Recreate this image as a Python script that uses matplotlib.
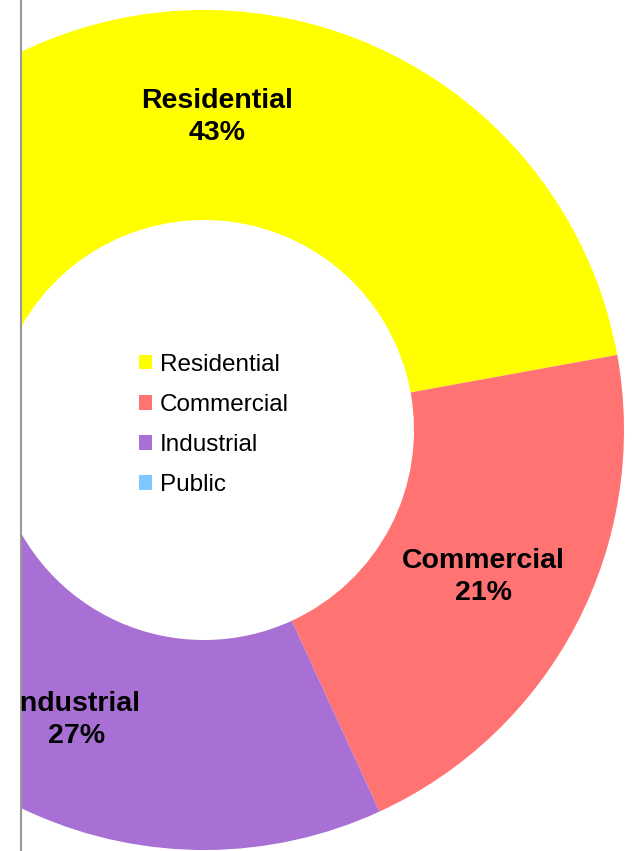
import numpy as np
import matplotlib
matplotlib.use("Agg")
import matplotlib.pyplot as plt
from matplotlib.patches import Patch

plt.rcParams['font.family'] = ['Liberation Sans', 'DejaVu Sans']

categories = ["Residential", "Commercial", "Industrial", "Public"]
values = [43, 21, 27, 9]
colors = ["#FFFF00", "#FF7373", "#A870D4", "#7FC8FF"]

W, H = 635, 851
fig = plt.figure(figsize=(W / 100, H / 100), dpi=100)
left = 20
ax = fig.add_axes([left / W, 0, (W - left) / W, 1])

cx, cy = 204, H - 430
R = 420
wedges, _ = ax.pie(values, colors=colors, startangle=165.1, counterclock=False,
                   radius=R, center=(cx, cy),
                   wedgeprops=dict(width=R * 0.5, linewidth=0))
ax.set_xlim(left, W)
ax.set_ylim(0, H)
ax.set_aspect('auto')
ax.axis('off')
for w in wedges:
    w.set_clip_on(True)
    w.set_clip_box(ax.bbox)

for w, cat, v in zip(wedges, categories, values):
    th = np.deg2rad((w.theta1 + w.theta2) / 2)
    r = 0.75 * R
    x, y = cx + r * np.cos(th), cy + r * np.sin(th)
    if x < left:
        continue  # label lies outside the visible plot area
    t = ax.text(x, y - 2, f"{cat}\n{v}%",
                ha='center', va='center', multialignment='center',
                fontsize=20.5, fontweight='bold', color='black', linespacing=1.3)
    t.set_clip_on(True)
    t.set_clip_box(ax.bbox)

ax.axvline(left + 0.6, color='#999999', lw=1.5, clip_on=False)

handles = [Patch(facecolor=c, edgecolor='none') for c in colors]
fig.legend(handles, categories, loc='center left',
           bbox_to_anchor=(139 / W, (H - 425) / H), bbox_transform=fig.transFigure,
           frameon=False, fontsize=17.5, handlelength=0.55, handleheight=0.55,
           handletextpad=0.3, labelspacing=0.75, borderpad=0, borderaxespad=0)

fig.savefig("out.png", dpi=100, facecolor='white')
